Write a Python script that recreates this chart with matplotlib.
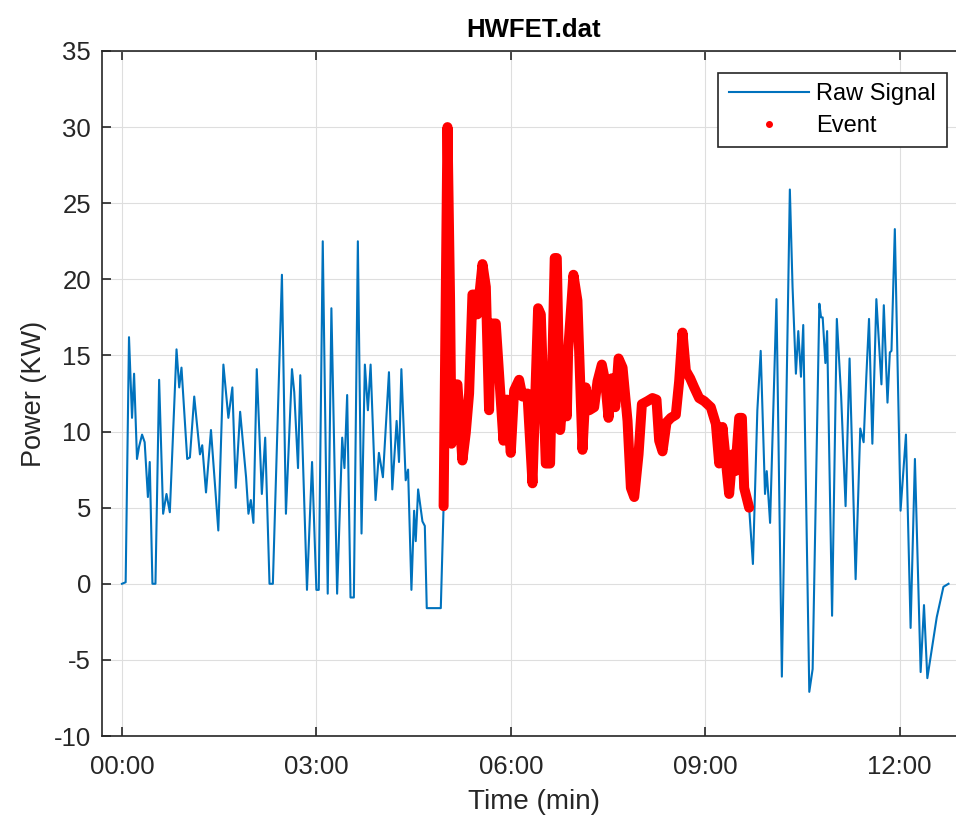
import numpy as np
import matplotlib
matplotlib.use("Agg")
import matplotlib.pyplot as plt
from matplotlib.lines import Line2D
from matplotlib.ticker import FuncFormatter, MultipleLocator

OUT_FILE = "out.png"
TITLE = "HWFET.dat"

# raw signal (time in s, power in kW)
time_s = [
    0, 3.4, 6.5, 9.3, 11.2, 13.9, 15.8, 18.6, 21, 24, 25.7, 28.2, 31, 34.4, 38.1,
    41.2, 44.3, 50.5, 53, 55.1, 60.4, 62.9, 66.9, 72.2, 74.3, 77.8, 82.4, 89.2,
    93.9, 98.5, 102.2, 105.3, 109.4, 114.9, 117.1, 119.3, 121.7, 124.8, 129.5,
    132.6, 136.6, 139.7, 148.1, 151.8, 157.4, 159.5, 163, 165.1, 171.3, 176, 180,
    182.2, 185.9, 190.5, 193.9, 199.2, 203.9, 206, 208.5, 211.6, 214.7, 218.4,
    221.8, 224.9, 227.7, 230.2, 234.8, 237.9, 241.6, 247.2, 250.3, 254.3, 256.5,
    258.7, 262.7, 264.9, 268, 270.5, 272, 274.2, 278.2, 280.4, 282.2, 295.2,
    # event part
    297.8, 301.4, 303.8, 305.1, 308.1, 310.6, 315.2, 318.3, 321.4, 324.5, 327.6,
    329.1, 333.8, 336.9, 339.9, 341.5, 346.1, 350.7, 353.2, 356.3, 360, 363.1,
    367.7, 370.8, 375.4, 380.1, 385.3, 387.8, 392.4, 396.4, 400.7, 402.6, 405.7,
    409.4, 411.9, 413.1, 418, 421.7, 426.4, 429.4, 432.6, 437.2, 440.3, 444.3,
    447.4, 450.5, 453.6, 456.7, 459.8, 463.5, 468.1, 471.2, 474.3, 478.3, 481.4,
    486.6, 491.2, 494.9, 497.4, 500.5, 504.2, 508.2, 512.8, 515.9, 519, 522.1,
    526.1, 529.8, 534.4, 539.1, 545.2, 549.9, 553, 556, 559.1, 562.2, 565.3,
    567.8, 571.5, 574, 576.1, 580.7,
    # after the event
    584.2, 588.3, 591.4, 595.4, 597, 600.1, 606, 611, 618.4, 620.9, 624, 626.2,
    628.7, 630.8, 636.4, 639.5, 645.7, 647.3, 648.8, 651.3, 652.9, 657.5, 661.9,
    665.9, 670, 673.7, 679.3, 683.6, 686.7, 689.2, 691.7, 694.8, 698.5, 703.2,
    705.4, 708.8, 711, 712.5, 715.6, 720.9, 725.9, 730.2, 734.2, 739.5, 742.6,
    745.7, 754.4, 760.6, 765.3,
]
power_kw = [
    0, 0.1, 16.2, 10.9, 13.8, 8.2, 9.0, 9.8, 9.3, 5.7, 8.0, 0, 0, 13.4, 4.6,
    5.9, 4.7, 15.4, 12.9, 14.2, 8.2, 8.3, 12.3, 8.5, 9.1, 6.0, 10.1, 3.5,
    14.4, 10.9, 12.9, 6.3, 11.3, 7.0, 4.6, 5.5, 4.0, 14.1, 5.9,
    9.6, 0, 0, 20.3, 4.6, 14.1, 12.6, 7.6, 13.7, -0.4, 8.0, -0.4,
    -0.4, 22.5, -0.65, 18.1, -0.65, 9.6, 7.6, 12.4, -0.9, -0.9, 22.5,
    3.3, 14.4, 11.4, 14.4, 5.5, 8.6, 7.0, 13.9, 6.2, 10.7, 8.0,
    14.1, 6.8, 7.5, -0.4, 4.8, 2.8, 6.2, 4.1, 3.8, -1.6, -1.6,
    5.1, 30.0, 18.6, 9.2, 13.1, 13.1, 8.1, 9.9, 12.5, 19.0, 19.0,
    17.7, 21.0, 19.5, 11.4, 17.1, 17.1, 12.1, 9.4, 12.1, 8.6, 12.7,
    13.4, 12.3, 12.5, 6.6, 18.1, 17.7, 7.9, 7.9, 21.4, 21.4, 10.1,
    13.1, 11.0, 15.3, 20.3, 18.6, 8.8, 12.9, 11.4, 11.6, 13.3, 14.4,
    13.3, 10.9, 13.5, 11.6, 14.8, 14.2, 10.7, 6.3, 5.7, 8.5, 11.8,
    12.0, 12.2, 12.1, 9.4, 8.7, 10.6, 10.9, 11.1, 13.3, 16.5, 14.0,
    13.5, 12.9, 12.2, 12.0, 11.6, 10.5, 7.9, 10.3, 8.1, 5.9, 8.5,
    7.4, 10.9, 10.9, 6.3, 5.0,
    1.3, 11.4, 15.3, 5.9, 7.4, 4.0, 18.7, -6.1, 25.9, 19.5, 13.8, 16.6,
    13.6, 17.0, -7.1, -5.6, 18.4, 17.5, 17.5, 14.5, 16.6, -2.1, 17.4,
    12.3, 5.1, 14.8, 0.3, 10.2, 9.3, 13.6, 17.4, 9.2, 18.7, 13.1,
    18.3, 11.9, 15.2, 15.3, 23.3, 4.8, 9.8, -2.9, 8.2, -5.8, -1.4,
    -6.2, -2.2, -0.2, 0,
]
event_start = 297.8
event_end = 580.7

t = np.array(time_s)
p = np.array(power_kw)
ev = (t >= event_start) & (t <= event_end)

plt.rcParams["font.family"] = ["Liberation Sans", "DejaVu Sans"]
plt.rcParams["axes.unicode_minus"] = False
dark = "#262626"

fig = plt.figure(figsize=(9.56, 8.21), dpi=100)
# right edge of the axes sits just past the figure, like the cropped original
ax = fig.add_axes([102 / 956, 85 / 821, 864 / 956, 685 / 821])

ax.plot(t, p, color="#0072BD", lw=1.5, zorder=3)
ax.plot(t[ev], p[ev], color="#FF0000", lw=7.2, solid_joinstyle="round",
        solid_capstyle="round", zorder=4)

ax.set_xlim(-18.5, 781.5)
ax.set_ylim(-10, 35)
ax.xaxis.set_major_locator(MultipleLocator(180))
ax.yaxis.set_major_locator(MultipleLocator(5))
ax.xaxis.set_major_formatter(FuncFormatter(lambda v, pos: f"{int(v // 60):02d}:{int(v % 60):02d}"))

ax.grid(True, color="#dedede", lw=0.8, zorder=0)
ax.set_axisbelow(True)
for s in ax.spines.values():
    s.set_color(dark)
    s.set_linewidth(1.2)
ax.tick_params(direction="in", length=6.5, width=1.2, colors=dark, labelsize=18.5,
               top=True, right=True)
ax.tick_params(axis="x", pad=14)
ax.tick_params(axis="y", pad=8)

ax.set_xlabel("Time (min)", fontsize=20, color=dark, labelpad=7)
ax.set_ylabel("Power (KW)", fontsize=19.5, color=dark, labelpad=5)
ax.set_title(TITLE, fontsize=18.5, fontweight="bold", color="black", pad=10)

handles = [Line2D([], [], color="#0072BD", lw=1.5),
           Line2D([], [], color="#FF0000", ls="none", marker="o", markersize=4)]
leg = ax.legend(handles, ["Raw Signal", "Event"], loc="upper right",
                bbox_to_anchor=(946.7 / 956, 1 - 72.7 / 821),
                bbox_transform=fig.transFigure, borderaxespad=0, fontsize=17,
                fancybox=False, framealpha=1, edgecolor=dark,
                handlelength=3.4, handletextpad=0.3, labelspacing=0.4,
                borderpad=0.45)
leg.get_frame().set_linewidth(1.2)

fig.savefig(OUT_FILE, dpi=100)
plt.close(fig)
